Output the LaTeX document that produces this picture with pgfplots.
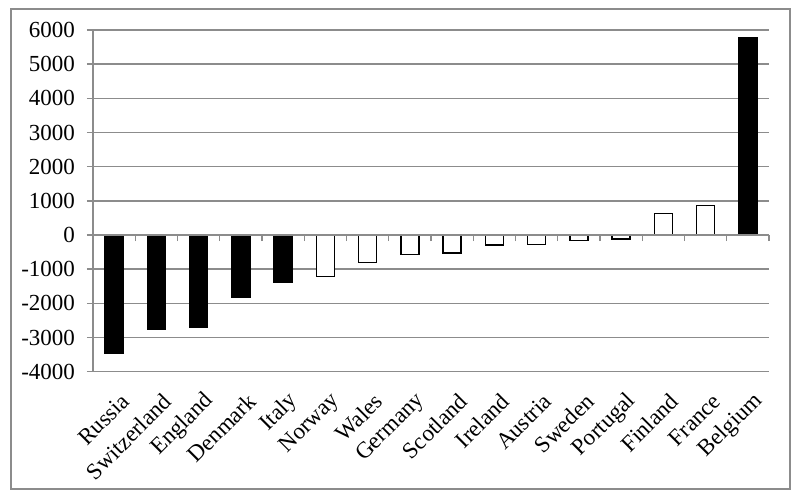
\documentclass[border=0pt]{standalone}
\usepackage{pgfplots}
\pgfplotsset{compat=1.18}
\usepackage{fontspec}
\setmainfont{Liberation Serif}
\definecolor{gridgray}{gray}{0.55}

\begin{document}
\begin{tikzpicture}
\useasboundingbox (0,0) rectangle (400pt,249pt);
\draw[gridgray, line width=0.7pt] (5.5pt,4.5pt) rectangle (395pt,244.5pt);

% main axis: bars, grid, y axis, category labels at the bottom
\begin{axis}[
    at={(46.5pt,63.15pt)}, anchor=south west,
    scale only axis, width=338pt, height=170.85pt,
    xmin=-0.5, xmax=15.5, ymin=-4000, ymax=6000,
    ybar, bar width=9pt,
    xtick={0,...,15},
    xticklabels={Russia,Switzerland,England,Denmark,Italy,Norway,Wales,Germany,Scotland,Ireland,Austria,Sweden,Portugal,Finland,France,Belgium},
    ytick={-4000,-3000,...,6000},
    axis y line*=left, axis x line*=bottom,
    x axis line style={draw=none}, xtick style={draw=none},
    y axis line style={gridgray, line width=0.7pt},
    ytick style={gridgray, line width=0.7pt},
    tick align=outside, major tick length=3pt,
    ymajorgrids, grid style={gridgray, line width=0.7pt},
    yticklabel style={/pgf/number format/1000 sep={}, /pgf/number format/assume math mode=true, xshift=-2.5pt},
    tick label style={font=\fontsize{11.5}{13}\selectfont},
    xticklabel style={rotate=45, anchor=east, inner sep=1pt, yshift=-11pt, xshift=-2pt},
]
% filled bars
\addplot[fill=black, draw=black, line width=0.8pt, bar shift=0pt] coordinates {
(0,-3450) (1,-2770) (2,-2700) (3,-1830) (4,-1390) (15,5760)
};
% open bars
\addplot[fill=white, draw=black, line width=0.8pt, bar shift=0pt] coordinates {
(5,-1210) (6,-810) (7,-570) (8,-530) (9,-290) (10,-280)
(11,-160) (12,-120) (13,630) (14,860)
};
\end{axis}

% zero line with category boundary ticks
\begin{axis}[
    at={(46.5pt,63.15pt)}, anchor=south west,
    scale only axis, width=338pt, height=170.85pt,
    xmin=-0.5, xmax=15.5, ymin=-4000, ymax=6000,
    axis x line=middle, axis y line=none,
    x axis line style={-, gridgray, line width=0.7pt},
    xtick={-0.5,0.5,...,15.5}, xticklabels={},
    xtick style={gridgray, line width=0.7pt},
    tick align=outside, major tick length=3pt,
]
\addplot[draw=none] coordinates {(0,0)};
\end{axis}
\end{tikzpicture}
\end{document}
